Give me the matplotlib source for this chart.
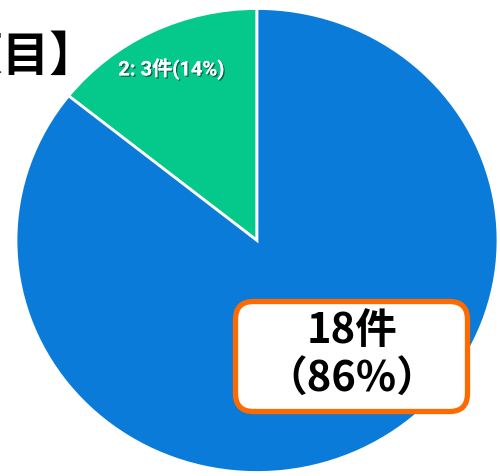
import matplotlib
matplotlib.use("Agg")
import matplotlib.pyplot as plt
import matplotlib.patheffects as pe
from matplotlib.patches import FancyBboxPatch

categories = ["2", "1"]
counts = [3, 18]
colors = ["#05C98A", "#0A7BD9"]
title_text = "【回答項目】"

total = sum(counts)
pcts = [round(c / total * 100) for c in counts]

fig = plt.figure(figsize=(5.0, 4.77), dpi=100)
ax = fig.add_axes([0, 0, 1, 1])
ax.axis("off")

wedges, texts = ax.pie(
    counts, colors=colors, startangle=90, counterclock=True,
    labels=[f"{categories[0]}: {counts[0]}件({pcts[0]}%)", ""],
    labeldistance=0.82,
    wedgeprops=dict(edgecolor="white", linewidth=2.0),
    textprops=dict(color="white", fontsize=14.5, fontweight="bold",
                   family=["Roboto", "Noto Sans CJK JP"], ha="center", va="center"),
)
texts[0].set_path_effects([pe.withSimplePatchShadow(offset=(1, -1), shadow_rgbFace="black", alpha=0.5), pe.Normal()])
ax.set_aspect("auto")
# pie centre at pixel (257, 241.5); radii 241 (x) and 232 (y)
ax.set_xlim((0 - 257) / 241, (500 - 257) / 241)
ax.set_ylim(-(477 - 241.5) / 232, 241.5 / 232)

# Title (cut off at left)
fig.text(97 / 500, 1 - 57 / 477, title_text, ha="right", va="center",
         fontsize=34, fontweight="bold", family=["Noto Sans CJK JP", "DejaVu Sans"], color="black")

# Highlight box for the large slice
box = FancyBboxPatch((235.5, 477 - 412.5), 232, 110,
                     boxstyle="round,pad=0,rounding_size=18",
                     transform=None, facecolor="white", edgecolor="#FF6A00", linewidth=3.8, zorder=5)
fig.add_artist(box)
fig.text(352 / 500, 1 - 331 / 477, f"{counts[1]}件", ha="center", va="center",
         fontsize=30, fontweight="bold", family=["Noto Sans CJK JP", "DejaVu Sans"], color="black", zorder=6)
fig.text(352 / 500, 1 - 380 / 477, f"（{pcts[1]}%）", ha="center", va="center",
         fontsize=30, fontweight="bold", family=["Noto Sans CJK JP", "DejaVu Sans"], color="black", zorder=6)

fig.savefig("out.png", dpi=100)
